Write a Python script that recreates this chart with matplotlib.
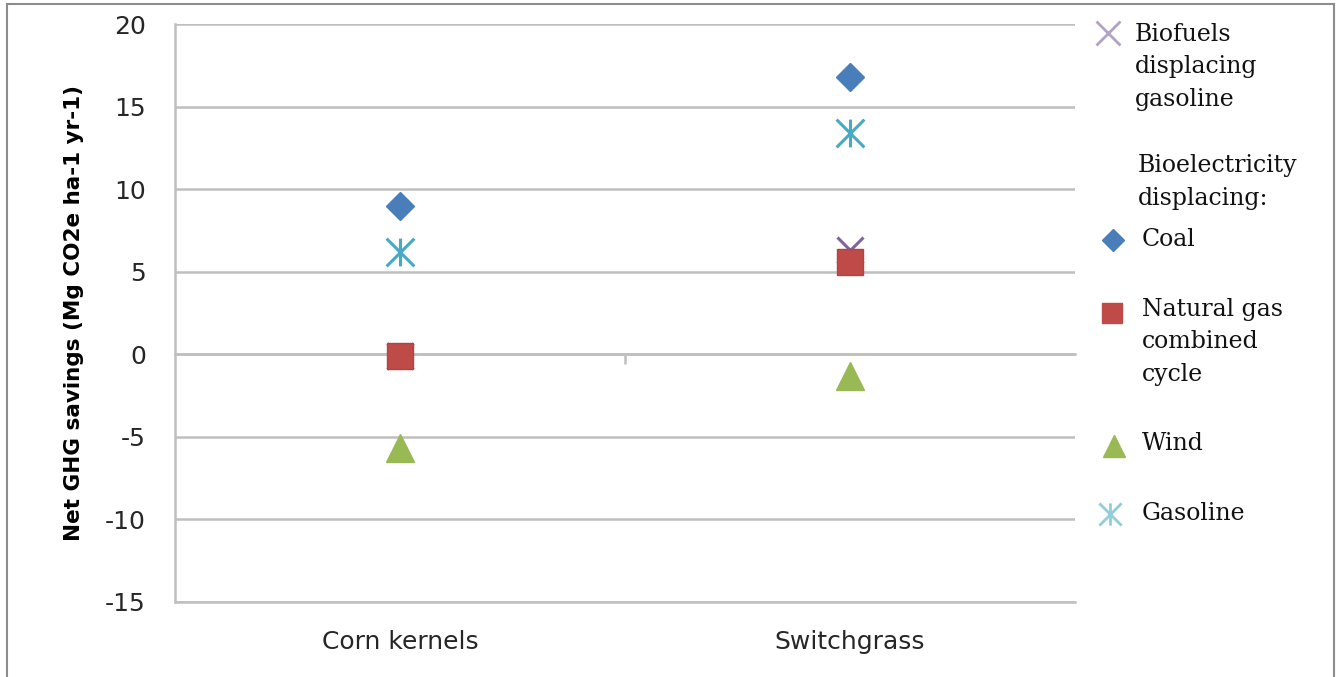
import matplotlib
matplotlib.use('Agg')
import matplotlib.pyplot as plt
from matplotlib.lines import Line2D
from matplotlib.path import Path

plt.rcParams['axes.unicode_minus'] = False

# ── Dados ─────────────────────────────────────────────────────────────────────
categories = ["Corn kernels", "Switchgrass"]
biofuels   = [-0.1, 6.3]    # "Biofuels displacing gasoline"
coal       = [9.0, 16.8]
ngcc       = [-0.1, 5.6]    # Natural gas combined cycle
wind       = [-5.7, -1.3]
gasoline   = [6.2, 13.4]

y_ticks = [20, 15, 10, 5, 0, -5, -10, -15]
y_label = "Net GHG savings (Mg CO2e ha-1 yr-1)"

# ── Estilo (cores padrão do Excel) ────────────────────────────────────────────
C_BLUE, C_RED, C_GREEN = '#4A7EBB', '#BE4B48', '#98B954'
C_PURPLE, C_AQUA = '#7F63A1', '#46AAC5'
GRID = '#BFBFBF'

# marcador "star" do Excel: X + linha vertical
M, L = Path.MOVETO, Path.LINETO
star = Path([(-1, -1), (1, 1), (-1, 1), (1, -1), (0, -1), (0, 1)],
            [M, L, M, L, M, L])

fig = plt.figure(figsize=(13.36, 6.77), dpi=100)
ax = fig.add_axes([0.131, 0.1108, 0.6737, 0.8537])

x = range(len(categories))
ax.plot(x, biofuels, ls='none', marker='x', ms=19, mew=2.2, color=C_PURPLE, zorder=3)
ax.plot(x, coal, ls='none', marker='D', ms=14, color=C_BLUE, zorder=4)
ax.plot(x, ngcc, ls='none', marker='s', ms=19, color=C_RED, mec='#B04440', zorder=4)
ax.plot(x, wind, ls='none', marker='^', ms=20, color=C_GREEN, zorder=4)
ax.plot(x, gasoline, ls='none', marker=star, ms=20, mew=2.2, color=C_AQUA, zorder=4)

ax.set_xlim(-0.5, 1.5)
ax.set_ylim(-15, 20)
ax.set_yticks(y_ticks)
ax.set_xticks(list(x))
ax.set_xticklabels(categories)
ax.yaxis.grid(True, color=GRID, lw=1.8)
ax.set_axisbelow(True)
for s in ['top', 'right']:
    ax.spines[s].set_visible(False)
for s in ['left', 'bottom']:
    ax.spines[s].set_color(GRID)
    ax.spines[s].set_linewidth(1.8)
ax.tick_params(axis='x', length=0, pad=20, labelsize=18, labelcolor='#262626')
ax.tick_params(axis='y', length=0, pad=21, labelsize=18, labelcolor='#262626')
ax.set_ylabel(y_label, fontsize=15.5, fontweight='bold', labelpad=15)

# eixo de categorias cruzando em 0, com tick entre as categorias
sec = ax.secondary_xaxis(15 / 35)
sec.set_xticks([0.5])
sec.set_xticklabels([])
sec.tick_params(length=7, width=1.8, color=GRID)
sec.spines['bottom'].set_color(GRID)
sec.spines['bottom'].set_linewidth(1.8)

# ── Legenda manual ────────────────────────────────────────────────────────────
W, H = 1336, 677
serif = dict(family='DejaVu Serif', fontsize=17, color='#111111', va='center')

def mk(px, py, **kw):
    fig.add_artist(Line2D([px / W], [1 - py / H], ls='none', **kw))

def txt(px, py, s):
    fig.text(px / W, 1 - py / H, s, linespacing=1.52, **serif)

mk(1108, 33, marker='x', ms=17, mew=2, color='#B3A2C7')
txt(1135, 67, "Biofuels\ndisplacing\ngasoline")
txt(1138, 182, "Bioelectricity\ndisplacing:")
mk(1113, 240, marker='D', ms=11, color=C_BLUE)
txt(1142, 240, "Coal")
mk(1112, 313, marker='s', ms=15, color=C_RED)
txt(1142, 342, "Natural gas\ncombined\ncycle")
mk(1114, 446, marker='^', ms=16, color=C_GREEN)
txt(1142, 444, "Wind")
mk(1110, 514, marker=star, ms=16, mew=2, color='#92CDDC')
txt(1142, 514, "Gasoline")

# moldura
for xs, ys in [([7, 7], [677, 4]), ([7, 1334], [4, 4]), ([1334, 1334], [4, 677])]:
    fig.add_artist(Line2D([v / W for v in xs], [1 - v / H for v in ys],
                          color='#8C8C8C', lw=1.5))

fig.savefig('out.png', dpi=100)
